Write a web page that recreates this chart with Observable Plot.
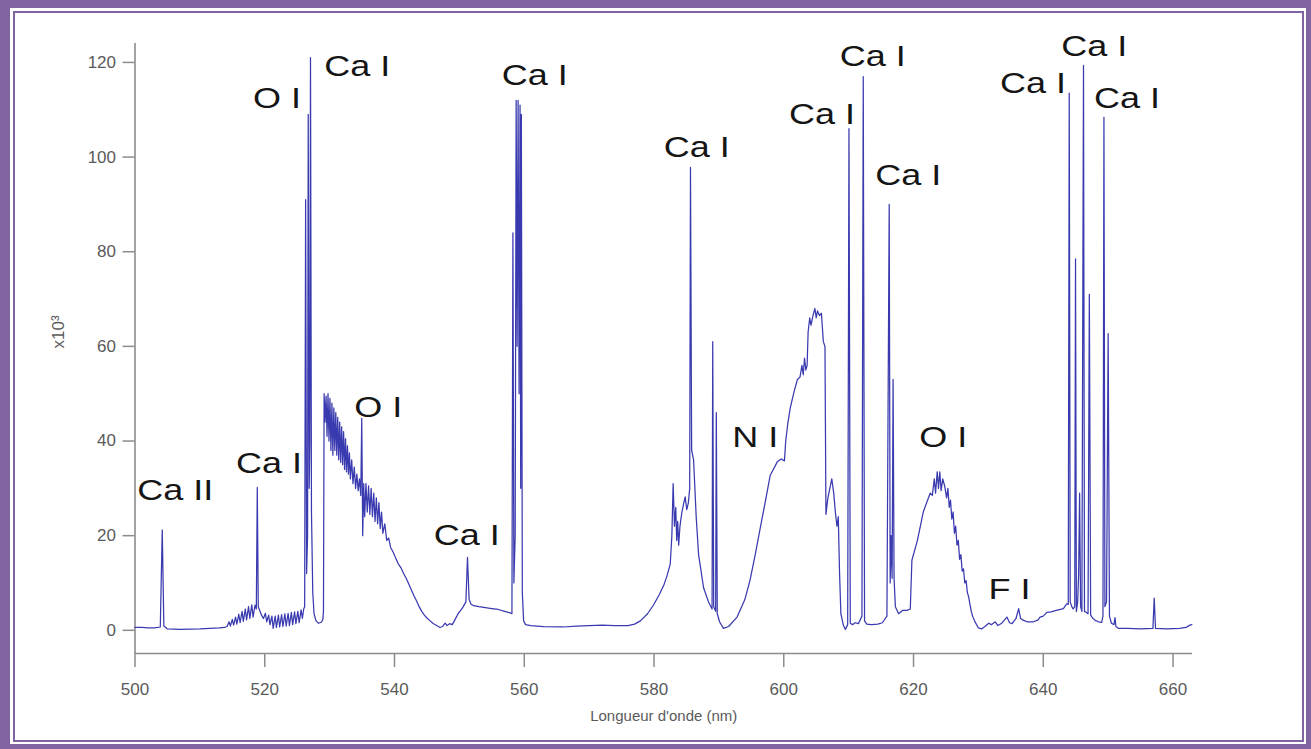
<!DOCTYPE html>
<html>
<head>
<meta charset="utf-8">
<script src="https://cdn.jsdelivr.net/npm/d3@7"></script>
<script src="https://cdn.jsdelivr.net/npm/@observablehq/plot@0.6"></script>
<style>
  html, body { margin: 0; padding: 0; background: #fff; overflow: hidden; }
  #wrap { position: relative; width: 1311px; height: 749px; }
  #outer { position: absolute; left: 0; top: 0; width: 1311px; height: 749px; box-sizing: border-box;
           border-style: solid; border-color: #8064A2; border-width: 8px 5px 5px 10px; }
  #inner { position: absolute; left: 12.5px; top: 11px; right: 7.5px; bottom: 7.5px;
           border: 2px solid #8064A2; }
  #chart { position: absolute; left: 0; top: 0; }
</style>
</head>
<body>
<div id="wrap">
  <div id="outer"></div>
  <div id="inner"></div>
  <div id="chart"></div>
</div>
<script>
// ---- data (wavelength nm, intensity x10^3) ----
const regionA = [
  [500.0,0.6],[501.0,0.6],[502.0,0.5],[503.0,0.5],[503.9,0.7],[504.2,21.2],[504.45,0.9],[505.0,0.3],[507.0,0.2],[510.0,0.3],[513.0,0.5],[513.8,0.6],
  [514.2,0.8],[514.5,1.8],[514.7,0.9],[515.0,2.3],[515.2,1.1],[515.5,2.8],[515.7,1.3],[516.0,3.4],[516.2,1.6],[516.5,4.0],[516.7,1.9],[517.0,4.5],[517.2,2.2],[517.5,5.0],[517.7,2.5],[518.0,5.4],[518.2,2.8],[518.5,5.3],[518.7,4.5],[518.85,30.2],[519.0,5.0],[519.2,4.3],[519.5,3.2],
  [519.8,2.5],[520.1,3.6],[520.3,1.8],[520.6,3.2],[520.8,1.2],[521.1,3.0],[521.3,0.4],[521.6,3.0],[521.8,0.6],[522.1,3.2],[522.3,0.7],[522.6,3.3],[522.8,0.8],[523.1,3.5],[523.3,0.9],[523.6,3.6],[523.8,1.0],[524.1,3.8],[524.3,1.2],[524.6,3.9],[524.8,1.4],[525.1,4.0],[525.3,1.6],[525.6,4.3],[525.8,2.5],[526.0,4.5],
  [526.15,5],[526.3,91],[526.45,12],[526.6,20],[526.7,109],[526.85,30],[526.95,40],[527.05,121],[527.2,25],[527.4,8],[527.6,3.5],[527.9,2],[528.3,1.5],[528.7,1.7],[528.95,2.2],[529.05,4],[529.15,50]
];
const regionB = [
  [529.3,44],[529.45,49.5],[529.6,41],[529.75,50],[529.9,40],[530.05,49],[530.2,38],[530.35,48],[530.5,37],[530.65,47],[530.8,38],[530.95,46],[531.1,37],[531.25,45],[531.4,36],[531.55,44],[531.7,35.5],[531.85,43],[532.0,35],[532.15,42],[532.3,34],[532.45,40.5],[532.6,33.5],[532.75,39],[532.9,33],[533.05,37.5],[533.2,32],[533.4,36],[533.6,31],[533.8,34.5],[534.0,30],[534.2,33],[534.4,29.5],[534.6,32],[534.8,28.5],[534.95,44.8],[535.1,20],[535.25,31],
  [535.4,24],[535.6,31],[535.8,25],[536.0,30.5],[536.2,24.5],[536.4,30],[536.6,24],[536.8,29],[537.0,23],[537.2,28],[537.4,22.5],[537.6,27],[537.8,21.5],[538.0,25],[538.2,20.5],[538.5,22.5],[538.8,19],[539.1,19.5],[539.4,17.5],
  [539.8,16.5],[540.2,15.2],[540.6,14.0],[541.0,13.2],[541.4,12],[541.8,11],[542.2,9.8],[542.6,8.5],[543.0,7.3],[543.4,6.2],[543.8,5],[544.2,4],[544.6,3.2],[545.0,2.6],[545.5,2],[546.0,1.4],[546.5,1.0],[547.0,0.6],[547.4,0.8],[547.8,1.5],[548.1,1.0],[548.5,1.4],[548.9,1.2],[549.3,2.2],[549.8,3.5],[550.2,4.2],[550.6,5],[551.0,6],[551.25,15.4],[551.5,6.5],[551.8,5.5],[552.2,5.2],
  [553.0,5.0],[554.0,4.8],[555.0,4.6],[556.0,4.4],[557.0,4.0],[557.8,3.7],[558.1,3.5],[558.25,84],[558.4,10],[558.6,20],[558.75,112],[558.9,60],[559.05,112],[559.2,50],[559.35,111],[559.45,30],[559.55,109],[559.7,8],[559.9,2],[560.2,1.2]
];
const regionC = [
  [561.0,1.0],[563.0,0.8],[566.0,0.7],[568.0,0.9],[570.0,1.0],[572.0,1.1],[574.0,1.0],[576.0,1.0],[577.0,1.3],[577.9,2.0],[579.0,3.5],[579.9,5.3],[580.8,7.5],[581.5,9.5],[582.0,11.5],[582.5,14],
  [582.75,20],[582.95,31],[583.15,22],[583.35,26],[583.5,19],[583.65,23],[583.8,18],[584.0,22],[584.3,25],[584.6,27],[584.8,28.2],[585.05,25.5],[585.3,27],[585.5,30],[585.62,97.8],[585.8,38],[586.1,36],[586.5,24],[586.87,16],[587.64,9],[588.4,6],[588.95,4.5],[589.05,61],[589.2,5],[589.5,4],[589.6,46],[589.75,3.5],[590.1,1.8],[590.7,0.4],
  [591.5,0.8],[592.8,2.8],[594.0,6.5],[594.8,10.6],[595.6,16],[596.4,21.8],[597.2,27.5],[597.9,32.7],[599.0,35.6],[599.6,36.2],[600.1,35.8]
];
const regionD = [
  [600.3,40],[600.6,43.5],[601.0,47],[601.6,50.5],[602.1,53],[602.5,53.5],[602.8,56],[603.0,54],[603.2,57.5],[603.4,55],[603.6,56],[603.75,63],[604.0,66],[604.2,64.5],[604.5,66.5],[604.8,68],[605.0,66],[605.2,67.5],[605.5,66.5],[605.8,67],[606.1,61],[606.35,60],[606.5,24.5],[606.8,28],[607.4,32],[607.7,29],[607.95,25],[608.2,22],[608.4,24],[608.6,12],[608.8,3.5],[609.2,1.0],[609.5,0.2],[609.85,1.2],
  [610.05,106],[610.25,1.5],[610.6,1.2],[611.0,1.6],[611.5,1.4],[612.05,3],[612.25,117],[612.45,2],[612.8,1.3],[613.5,1.2],[614.5,1.3],[615.2,1.6],[615.9,3],[616.25,90],[616.4,10],[616.55,20],[616.7,11],[616.85,53],[617.0,11],[617.2,5],[617.7,3.5],[618.3,4.2],[619.0,4.2],[619.5,4.5],
  [619.75,14.8],[620.6,19],[621.5,25],[622.3,28],[622.6,29],[622.9,28.5],[623.2,32],[623.4,29],[623.65,33.5],[623.85,30],[624.05,33.5],[624.25,29.5],[624.5,32],[624.8,30.5],[625.1,28],[625.3,30],[625.5,26],[625.7,27.5],[625.9,23.5],[626.1,25],[626.3,20.5],[626.5,22],[626.7,18],[626.9,19],[627.1,15],[627.3,16],[627.5,12.5],[627.7,13],[627.9,10],[628.1,10.5],[628.3,8],[628.5,7],[628.7,5.5],[628.9,4],[629.1,3],[629.4,2],[630.0,0.5]
];
const regionE = [
  [630.5,0.3],[631.0,0.8],[631.6,1.5],[632.0,1.2],[632.6,1.8],[633.0,1.0],[633.6,1.5],[634.4,2.8],[634.8,1.6],[635.2,1.4],[635.8,2.5],[636.2,4.6],[636.5,2.5],[636.95,2.1],[637.5,1.8],[638.5,1.8],[639.2,2.2],[639.5,2.8],[640.0,3.0],[640.55,3.8],[641.2,3.9],[642.0,4.2],[643.1,4.6],[643.6,5.6],
  [643.85,5.5],[644.0,113.5],[644.15,6],[644.4,5],[644.6,4.5],[644.85,5],[644.97,78.5],[645.1,4],[645.3,6],[645.45,12],[645.6,29],[645.75,5],[645.95,4],[646.2,119.4],[646.35,4],[646.6,3.8],[646.9,3.5],[647.1,71],[647.3,3.2],[647.6,2.6],[648.0,2.1],[648.5,1.8],[649.0,1.7],[649.2,3],[649.35,108.4],[649.5,5],[649.75,6],[650.0,62.7],[650.2,3],[650.5,1.5],[650.9,1.2],[651.05,2.7],[651.2,0.8],[651.6,0.4],
  [653.0,0.4],[655.0,0.3],[656.9,0.4],[657.1,6.8],[657.3,0.4],[659.0,0.3],[661.0,0.4],[662.0,0.6],[662.6,1.1],[662.9,1.2]
];

const lineLabels      = ["Ca II","Ca I","O I","Ca I","O I","Ca I","Ca I","Ca I","N I","Ca I","Ca I","Ca I","O I","F I","Ca I","Ca I","Ca I"];
const labelWavelength = [506.2, 520.65, 521.9, 534.25, 537.5, 551.15, 561.6, 586.6, 595.6, 605.9, 613.7, 619.2, 624.6, 634.8, 638.4, 647.85, 652.9];
const labelHeight     = [29.6, 35.3, 112.3, 119.2, 47.1, 20.1, 117.3, 102, 40.7, 109.1, 121.3, 96.1, 40.7, 8.7, 115.6, 123.4, 112.3];

const xDomain = [500, 663];
const yDomain = [-4.9, 124];
const xTicks = [500, 520, 540, 560, 580, 600, 620, 640, 660];
const yTicks = [0, 20, 40, 60, 80, 100, 120];
const xTitle = "Longueur d'onde (nm)";
const yTitle = "x10³";

// ---- build ----
const spectrum = [...regionA, ...regionB, ...regionC, ...regionD, ...regionE].map(([wl, v]) => ({wl, v}));
const labels = lineLabels.map((t, i) => ({t, x: labelWavelength[i], y: labelHeight[i]}));

const axisGray = "#8c8c8c";
const textGray = "#5a5a5a";

const svg = Plot.plot({
  width: 1311,
  height: 749,
  marginLeft: 134.5,
  marginRight: 119,
  marginTop: 43,
  marginBottom: 96,
  x: {domain: xDomain},
  y: {domain: yDomain},
  style: {background: "transparent", fontFamily: "'Liberation Sans', Arial, sans-serif", overflow: "visible"},
  marks: [
    Plot.ruleX([xDomain[0]], {stroke: axisGray, strokeWidth: 1.6}),
    Plot.ruleY([yDomain[0]], {stroke: axisGray, strokeWidth: 1.6}),
    Plot.axisX({ticks: xTicks, tickSize: 14, tickPadding: 15, fontSize: 17, label: null, stroke: axisGray, fill: textGray, strokeWidth: 1.5}),
    Plot.axisY({ticks: yTicks, tickSize: 12, tickPadding: 7, fontSize: 17, label: null, stroke: axisGray, fill: textGray, strokeWidth: 1.5}),
    Plot.line(spectrum, {x: "wl", y: "v", stroke: "#3a3ab0", strokeWidth: 1.25}),
    Plot.text(labels, {x: "x", y: "y", text: "t", fontSize: 30, fill: "#151515"}),
    Plot.text([xTitle], {text: d => d, frameAnchor: "bottom", dy: 67, fontSize: 15, fill: textGray}),
    Plot.text([yTitle], {text: d => d, frameAnchor: "left", dx: -76, rotate: -90, fontSize: 17, fill: textGray})
  ]
});

document.getElementById("chart").appendChild(svg);

// widen the peak labels horizontally like the reference lettering
d3.select(svg).selectAll("text")
  .filter(function () { return lineLabels.includes(this.textContent); })
  .each(function () {
    const len = this.getComputedTextLength();
    this.setAttribute("textLength", (len * 1.2).toFixed(1));
    this.setAttribute("lengthAdjust", "spacingAndGlyphs");
  });
</script>
</body>
</html>
